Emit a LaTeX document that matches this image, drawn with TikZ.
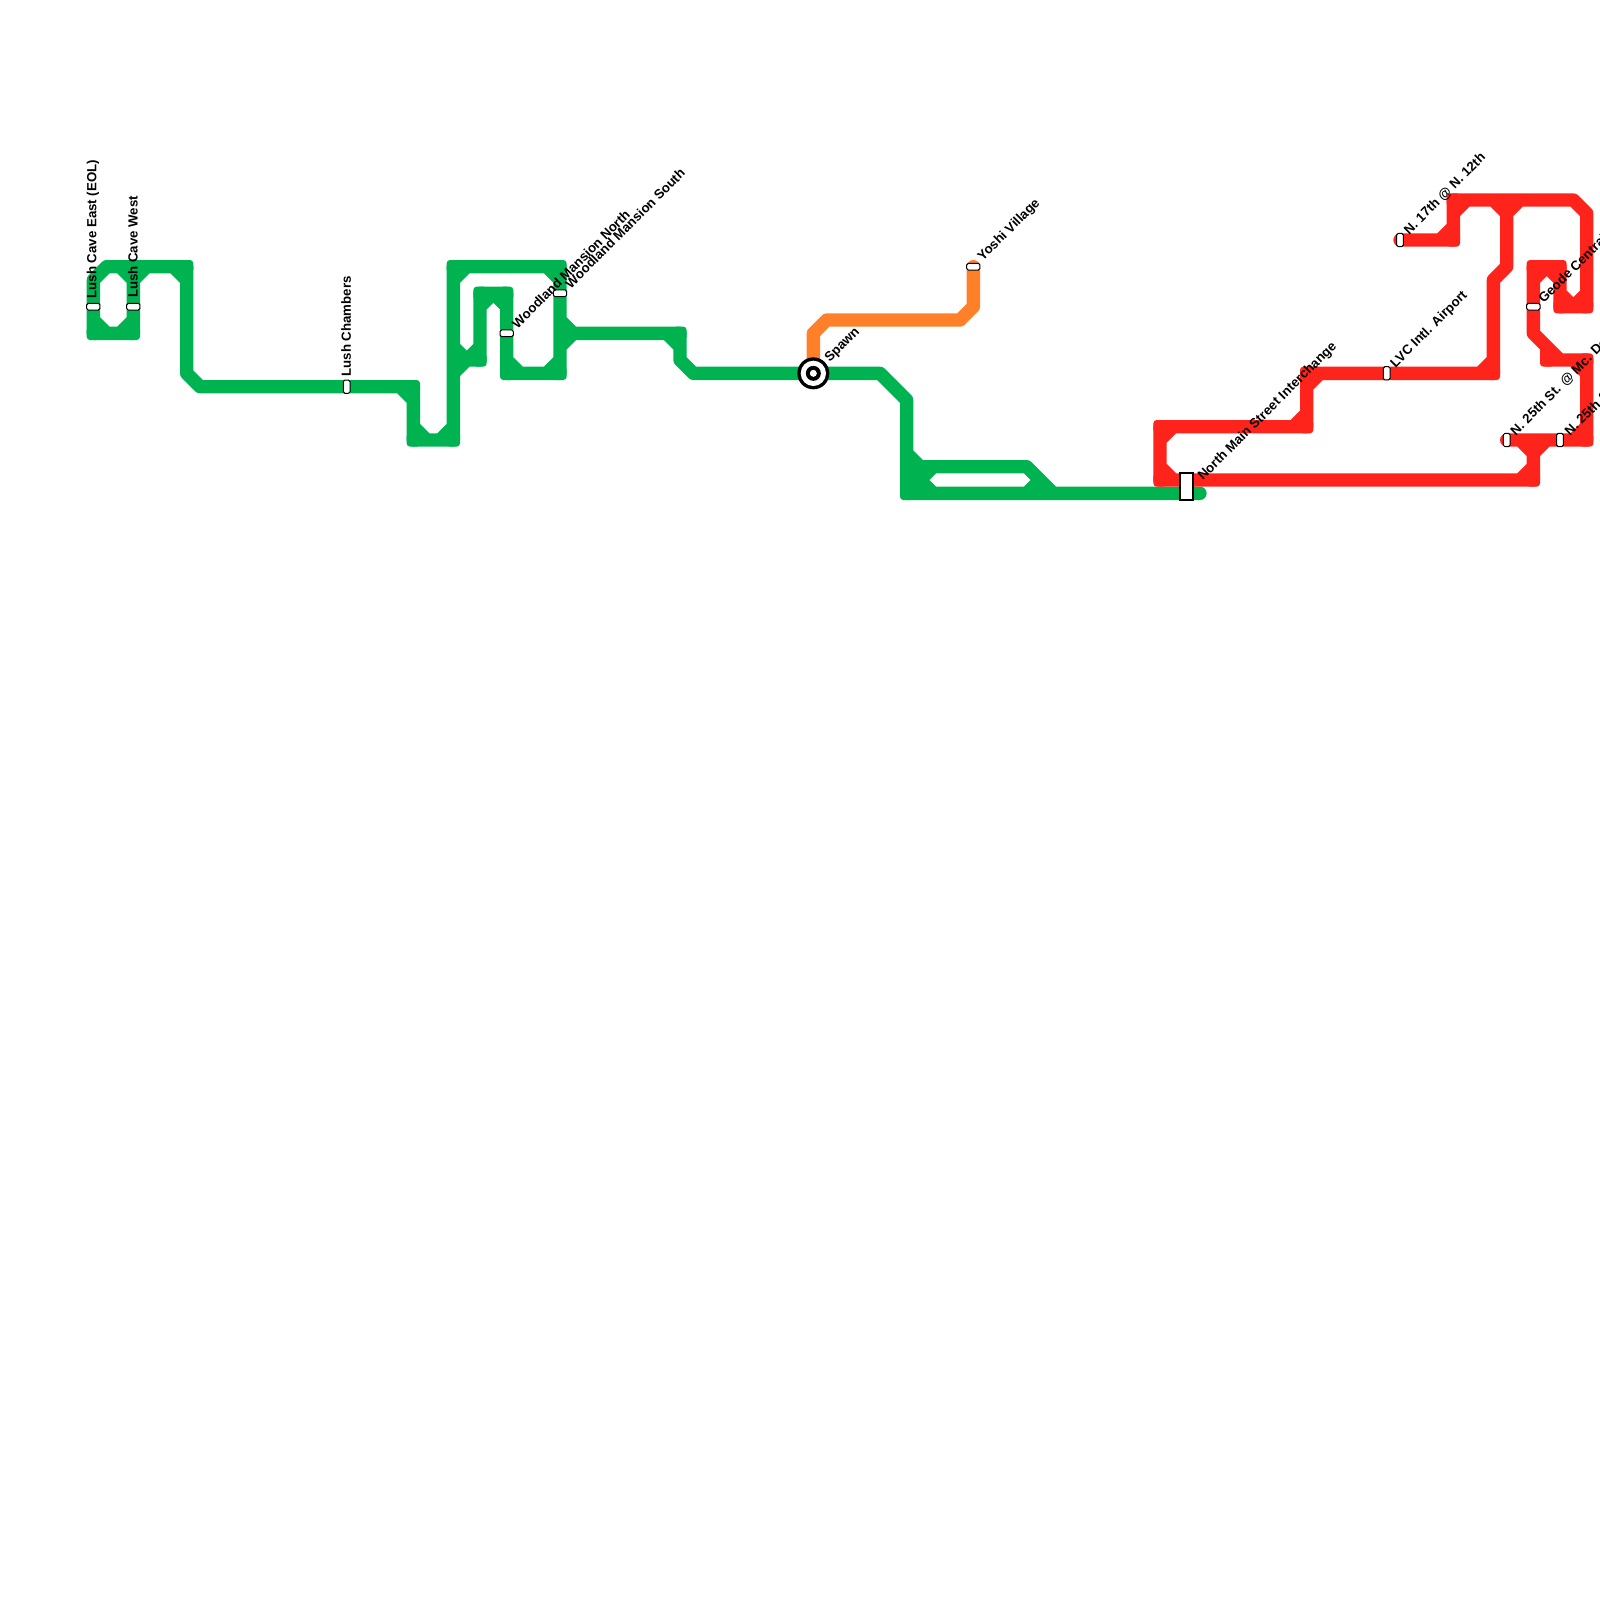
\documentclass[tikz,border=0pt]{standalone}
\usepackage{fontspec}
\setmainfont{Liberation Sans}
\definecolor{mgreen}{RGB}{0,179,81}
\definecolor{mred}{RGB}{255,36,27}
\definecolor{morange}{RGB}{255,128,41}
\tikzset{
  track/.style={line width=13.333pt,line cap=round,line join=round},
  hpill/.style={draw=black,fill=white,line width=1pt,rounded corners=1.6pt,minimum width=13.3pt,minimum height=6.7pt,inner sep=0pt},
  vpill/.style={draw=black,fill=white,line width=1pt,rounded corners=1.6pt,minimum width=6.7pt,minimum height=13.3pt,inner sep=0pt},
  lab/.style={font=\bfseries\fontsize{13.25}{13.25}\selectfont,anchor=west,inner sep=0pt,text=black},
  upl/.style={lab,rotate=90},
  dia/.style={lab,rotate=45},
}
\newcommand{\squarecorners}[2]{\foreach \p in {#2}{\fill[#1,rounded corners=3.3pt] \p ++(-6.667pt,-6.667pt) rectangle ++(13.333pt,13.333pt);}}
\begin{document}
\begin{tikzpicture}[x=13.3333pt,y=-13.3333pt]
\useasboundingbox (0,0) rectangle (120,120);
\fill[white] (0,0) rectangle (120,120);
\clip (0,0) rectangle (120,120);
% green line
\draw[track,mgreen]
 (7,21)--(7,25)--(10,25)--(10,21)--(9,20)--(8,20)--(7,21)
 (7,24)--(8,25) (9,25)--(10,24) (10,21)--(11,20)
 (8,20)--(14,20)--(14,28)--(15,29)--(31,29)--(31,33)--(34,33)--(34,20)--(42,20)--(42,28)--(38,28)--(38,22)--(36,22)--(36,27)--(35,27)--(34,26)
 (13,20)--(14,21) (30,29)--(31,30) (31,32)--(32,33) (33,33)--(34,32)
 (34,21)--(35,20) (41,20)--(42,21) (35,27)--(36,26) (35,27)--(34,28)
 (36,23)--(37,22)--(38,23) (38,27)--(39,28) (41,28)--(42,27)
 (42,24)--(43,25)--(42,26) (43,25)--(51,25)--(51,27)--(52,28)--(66,28)--(68,30)--(68,37)--(90,37)
 (50,25)--(51,26) (68,34)--(69,35)--(77,35)--(79,37)
 (68,35)--(70,37) (68,37)--(70,35) (77,37)--(78,36);
\squarecorners{mgreen}{(7,25),(10,25),(14,20),(31,29),(31,33),(34,33),(34,20),(42,20),(42,28),(38,28),(38,22),(36,22),(36,27),(51,25),(68,37)}
% orange line
\draw[track,morange] (61,28)--(61,25)--(62,24)--(72,24)--(73,23)--(73,20);
% red line
\draw[track,mred]
 (105,18)--(109,18)--(109,15)--(118,15)--(119,16)--(119,23)--(117,23)--(117,20)--(115,20)--(115,25)--(117,27)--(119,27)--(119,33)--(113,33)
 (108,18)--(109,17) (109,16)--(110,15) (112,15)--(113,16)--(114,15) (113,15)--(113,20)--(112,21)--(112,28)--(98,28)--(98,32)--(87,32)--(87,36)--(115,36)--(115,34)--(114,33) (115,34)--(116,33)
 (115,21)--(116,20)--(117,21) (117,22)--(118,23)--(119,22)
 (115,25)--(116,26)--(116,27)--(117,27) (118,33)--(119,32) (118,27)--(119,28)
 (111,28)--(112,27) (98,29)--(99,28) (97,32)--(98,31) (87,33)--(88,32) (87,35)--(88,36) (114,36)--(115,35);
\squarecorners{mred}{(109,18),(109,15),(119,23),(117,23),(117,20),(115,20),(116,27),(119,27),(119,33),(112,28),(98,28),(98,32),(87,32),(87,36),(115,36)}
% stations
\node[hpill] (lushE) at (7,23) {};
\node[hpill] (lushW) at (10,23) {};
\node[vpill] (lushC) at (26,29) {};
\node[hpill] (woodN) at (38,25) {};
\node[hpill] (woodS) at (42,22) {};
\node[hpill] (yoshi) at (73,20) {};
\node[vpill] (lvc) at (104,28) {};
\node[vpill] (n17) at (105,18) {};
\node[hpill] (geode) at (115,23) {};
\node[vpill] (n25a) at (113,33) {};
\node[vpill] (n25b) at (117,33) {};
\node[draw=black,fill=white,line width=2pt,minimum width=12.7pt,minimum height=26.7pt,inner sep=0pt] (nmain) at (89,36.5) {};
\node[circle,fill=black,minimum size=32pt,inner sep=0pt] (spawn) at (61,28) {};
\node[circle,fill=white,minimum size=25.3pt,inner sep=0pt] (spawnA) at (61,28) {};
\node[circle,fill=black,minimum size=15pt,inner sep=0pt] (spawnB) at (61,28) {};
\node[circle,fill=white,minimum size=7pt,inner sep=0pt] (spawnC) at (61,28) {};
% labels
\node[upl] (tLushE) at ([xshift=-0.5pt,yshift=8pt]lushE.center) {Lush Cave East (EOL)};
\node[upl] (tLushW) at ([xshift=-0.5pt,yshift=8.5pt]lushW.center) {Lush Cave West};
\node[upl] (tLushC) at ([xshift=-0.5pt,yshift=10pt]lushC.center) {Lush Chambers};
\node[dia] (tWoodN) at ([shift={(7.5pt,7.5pt)}]woodN.center) {Woodland Mansion North};
\node[dia] (tWoodS) at ([shift={(7.5pt,7.5pt)}]woodS.center) {Woodland Mansion South};
\node[dia] (tSpawn) at ([shift={(14pt,13pt)}]spawn.center) {Spawn};
\node[dia] (tYoshi) at ([shift={(7pt,7.5pt)}]yoshi.center) {Yoshi Village};
\node[dia] (tMain) at ([shift={(14pt,8pt)}]nmain.center) {North Main Street Interchange};
\node[dia] (tLvc) at ([shift={(6.5pt,7.5pt)}]lvc.center) {LVC Intl. Airport};
\node[dia] (tN17) at ([shift={(6.5pt,7.5pt)}]n17.center) {N. 17th @ N. 12th};
\node[dia] (tGeode) at ([shift={(7pt,6pt)}]geode.center) {Geode Central};
\node[dia] (tN25a) at ([shift={(6.5pt,6.5pt)}]n25a.center) {N. 25th St. @ Mc. Donald};
\node[dia] (tN25b) at ([shift={(6.5pt,6.5pt)}]n25b.center) {N. 25th St.};
\end{tikzpicture}
\end{document}
